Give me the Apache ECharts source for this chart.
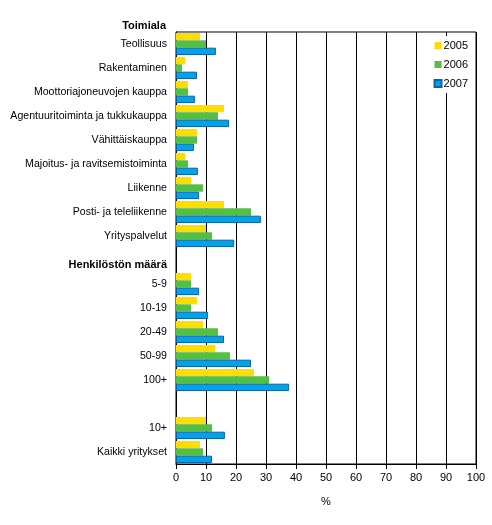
<!DOCTYPE html>
<html>
<head>
<meta charset="utf-8">
<script src="https://cdn.jsdelivr.net/npm/echarts@6/dist/echarts.min.js"></script>
<style>
  html, body { margin: 0; padding: 0; background: #fff; }
  #chart { width: 492px; height: 525px; }
</style>
</head>
<body>
<div id="chart"></div>
<script>
// rows top to bottom, '' is an empty spacer row
const categories = [
  'Teollisuus', 'Rakentaminen', 'Moottoriajoneuvojen kauppa',
  'Agentuuritoiminta ja tukkukauppa', 'Vähittäiskauppa',
  'Majoitus- ja ravitsemistoiminta', 'Liikenne', 'Posti- ja teleliikenne',
  'Yrityspalvelut', 'Henkilöstön määrä', '5-9', '10-19', '20-49', '50-99',
  '100+', '', '10+', 'Kaikki yritykset'
]
const headers = ['Henkilöstön määrä']
const years = ['2005', '2006', '2007']
const values2005 = [8, 3, 4, 16, 7, 3, 5, 16, 10, null, 5, 7, 9, 13, 26, null, 10, 8]
const values2006 = [10, 2, 4, 14, 7, 4, 9, 25, 12, null, 5, 5, 14, 18, 31, null, 12, 9]
const values2007 = [13.3, 7, 6.3, 17.7, 6, 7.3, 7.7, 28.3, 19.4, null, 7.7, 10.7, 16, 25, 37.7, null, 16.3, 12]
const xTicks = [0, 10, 20, 30, 40, 50, 60, 70, 80, 90, 100]

const font = 'Liberation Sans, Arial, sans-serif'
const colors = ['#FFDD00', '#55BE44', '#00A2E8']

const chart = echarts.init(document.getElementById('chart'))

const bar = (name, data, color, border) => ({
  name: name,
  type: 'bar',
  data: data,
  barGap: '0%',
  barCategoryGap: '8%',
  itemStyle: {
    color: color,
    borderColor: border || color,
    borderWidth: border ? 1 : 0
  }
})

chart.setOption({
  animation: false,
  textStyle: { fontFamily: font },
  title: {
    text: 'Toimiala',
    right: 321,
    top: 15,
    textStyle: { fontSize: 11, fontWeight: 'bold', color: '#000', fontFamily: font }
  },
  legend: {
    orient: 'vertical',
    right: 20,
    top: 36,
    icon: 'rect',
    itemWidth: 7,
    itemHeight: 7,
    itemGap: 8,
    padding: [4, 4, 4, 4],
    backgroundColor: '#fff',
    textStyle: { fontSize: 11, color: '#000', fontFamily: font, padding: [0, 0, 0, -3] },
    data: years
  },
  grid: {
    left: 176,
    right: 16,
    top: 32,
    bottom: 61,
    show: true,
    borderColor: '#000',
    borderWidth: 1
  },
  xAxis: {
    type: 'value',
    min: xTicks[0],
    max: xTicks[xTicks.length - 1],
    interval: 10,
    name: '%',
    nameLocation: 'middle',
    nameGap: 32,
    nameTextStyle: { fontSize: 11, color: '#000', fontFamily: font },
    axisLine: { show: true, lineStyle: { color: '#000' } },
    axisTick: { show: true, length: 5, lineStyle: { color: '#000' } },
    axisLabel: { fontSize: 11, color: '#000', margin: 8, fontFamily: font },
    splitLine: { show: true, lineStyle: { color: '#000', width: 1 } }
  },
  yAxis: {
    type: 'category',
    inverse: true,
    data: categories,
    axisLine: { show: true, lineStyle: { color: '#000' } },
    axisTick: { show: false },
    axisLabel: {
      fontSize: 10.6,
      color: '#000',
      margin: 9,
      interval: 0,
      fontFamily: font,
      formatter: v => headers.includes(v) ? '{h|' + v + '}' : v,
      rich: {
        h: { fontSize: 11, fontWeight: 'bold', color: '#000', fontFamily: font, padding: [10, 0, 0, 0] }
      }
    }
  },
  series: [
    bar(years[0], values2005, colors[0]),
    bar(years[1], values2006, colors[1]),
    bar(years[2], values2007, colors[2], '#0A64A8')
  ]
})
</script>
</body>
</html>
